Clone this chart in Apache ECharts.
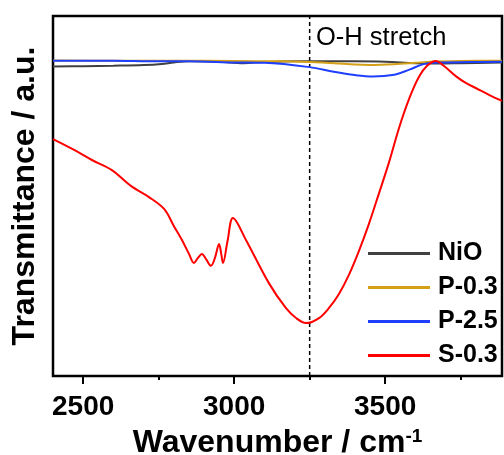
<!DOCTYPE html>
<html>
<head>
<meta charset="utf-8">
<script src="https://cdn.jsdelivr.net/npm/echarts@6/dist/echarts.min.js"></script>
<style>
html,body{margin:0;padding:0;background:#fff;}
#chart{width:504px;height:455px;}
</style>
</head>
<body>
<div id="chart"></div>
<script>
// ---- data ----
const seriesNames = ['NiO', 'P-0.3', 'P-2.5', 'S-0.3'];
const xTicks = [2500, 3000, 3500];
const xMinorTicks = [2750, 3250, 3750];
const ohStretchX = 3250;
const ohLabel = 'O-H stretch';

const nioX = [2400, 2500, 2600, 2700, 2760, 2800, 2850, 2950, 3030, 3100, 3200, 3300, 3400, 3500, 3600, 3680, 3750, 3887];
const nioY = [85.97, 86.06, 86.2, 86.4, 86.7, 87.1, 87.4, 87.3, 86.9, 87.2, 87.4, 87.4, 87.4, 87.3, 86.9, 86.8, 86.9, 87.1];

const p03X = [2400, 2600, 2800, 3000, 3150, 3250, 3330, 3400, 3450, 3530, 3600, 3650, 3750, 3887];
const p03Y = [87.64, 87.58, 87.56, 87.5, 87.4, 87.2, 86.9, 86.5, 86.4, 86.6, 87.0, 87.3, 87.5, 87.6];

const p25X = [2400, 2600, 2750, 2850, 3000, 3100, 3250, 3330, 3400, 3460, 3530, 3580, 3630, 3680, 3780, 3887];
const p25Y = [87.6, 87.56, 87.4, 87.4, 87.1, 87.0, 85.8, 84.5, 83.6, 83.2, 83.7, 85.1, 86.7, 87.1, 87.2, 87.3];

const s03X = [2400, 2470, 2529, 2595, 2658, 2718, 2768, 2800, 2827, 2850, 2867, 2880, 2893, 2908, 2923, 2937, 2950, 2957, 2963, 2978, 2996, 3039, 3115, 3171, 3205, 3238, 3281, 3314, 3347, 3380, 3413, 3446, 3479, 3513, 3546, 3579, 3612, 3638, 3668, 3695, 3734, 3767, 3800, 3844, 3887];
const s03Y = [65.8, 62.8, 60.0, 57.2, 52.8, 49.7, 46.4, 41.7, 37.8, 34.0, 31.4, 32.8, 33.9, 32.3, 30.6, 33.0, 36.7, 34.0, 31.4, 37.5, 43.9, 37.8, 25.8, 18.9, 16.1, 14.7, 16.1, 18.9, 22.8, 28.1, 34.7, 42.2, 50.6, 59.4, 68.9, 76.9, 83.1, 86.1, 87.5, 86.1, 83.3, 81.4, 80.0, 78.1, 76.4];

const colors = ['#404040', '#D4A017', '#1F3FFF', '#FF0000'];

function pairs(xs, ys) { return xs.map((x, i) => [x, ys[i]]); }

const FONT = 'Liberation Sans, Arial, sans-serif';
const chart = echarts.init(document.getElementById('chart'), null, {renderer: 'canvas'});

const lineSeries = [
  [nioX, nioY], [p03X, p03Y], [p25X, p25Y], [s03X, s03Y]
].map((d, i) => ({
  name: seriesNames[i],
  type: 'line',
  data: pairs(d[0], d[1]),
  showSymbol: false,
  smooth: 0.35,
  lineStyle: {color: colors[i], width: 2},
  itemStyle: {color: colors[i]},
  z: 3 + i
}));

lineSeries.push({
  name: 'oh',
  type: 'line',
  data: [[ohStretchX, 0], [ohStretchX, 100]],
  showSymbol: false,
  lineStyle: {color: '#000', width: 1.5, type: [4, 3]},
  z: 2,
  silent: true
});

const option = {
  backgroundColor: '#fff',
  animation: false,
  grid: {left: 53, right: 2, top: 16, bottom: 79, containLabel: false, outerBoundsMode: 'none', show: true, borderColor: '#000', borderWidth: 2.5, backgroundColor: 'transparent'},
  xAxis: [{
    type: 'value', min: 2400, max: 3887,
    axisLine: {show: false},
    splitLine: {show: false},
    axisTick: {show: true, customValues: xTicks, length: 8, lineStyle: {color: '#000', width: 2}},
    axisLabel: {customValues: xTicks, formatter: v => String(v), color: '#000', fontSize: 28, fontWeight: 'bold', fontFamily: FONT, margin: 17},
    name: '{a|Wavenumber / cm}{b|-1}',
    nameLocation: 'middle',
    nameGap: 51,
    nameTextStyle: {
      color: '#000',
      rich: {
        a: {fontSize: 32, fontWeight: 'bold', fontFamily: FONT, color: '#000', verticalAlign: 'bottom'},
        b: {fontSize: 19, fontWeight: 'bold', fontFamily: FONT, color: '#000', verticalAlign: 'top'}
      }
    }
  }, {
    type: 'value', min: 2400, max: 3887, position: 'bottom',
    axisLine: {show: false},
    splitLine: {show: false},
    axisTick: {show: true, customValues: xMinorTicks, length: 4, lineStyle: {color: '#000', width: 2}},
    axisLabel: {show: false}
  }],
  yAxis: {
    type: 'value', min: 0, max: 100,
    axisLine: {show: false}, axisTick: {show: false}, axisLabel: {show: false}, splitLine: {show: false},
    name: 'Transmittance / a.u.',
    nameLocation: 'middle',
    nameGap: 12,
    nameTextStyle: {fontSize: 32, fontWeight: 'bold', fontFamily: FONT, color: '#000'}
  },
  legend: {
    data: seriesNames,
    orient: 'vertical',
    left: 368, top: 241,
    padding: 0,
    icon: 'rect',
    itemWidth: 62, itemHeight: 3,
    itemGap: 9,
    textStyle: {fontSize: 25, fontWeight: 'bold', fontFamily: FONT, color: '#000', lineHeight: 24, padding: [0, 0, 0, 3]}
  },
  graphic: [{
    type: 'text', left: 316, top: 25,
    style: {text: ohLabel, font: '25.5px ' + FONT, fill: '#000'}
  }],
  series: lineSeries
};
chart.setOption(option);
</script>
</body>
</html>
